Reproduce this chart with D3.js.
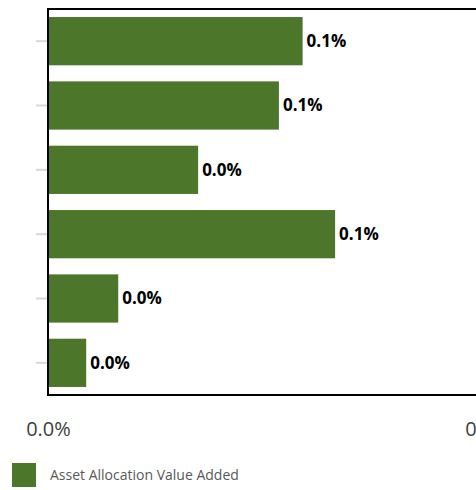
<!DOCTYPE html>
<html>
<head>
<meta charset="utf-8">
<script src="https://cdn.jsdelivr.net/npm/d3@7"></script>
<style>
  html, body { margin: 0; padding: 0; background: #fff; }
  svg { display: block; }
</style>
</head>
<body>
<svg id="chart" width="476" height="490"></svg>
<script>
const categories = ["A", "B", "C", "D", "E", "F"];
const values = [0.058, 0.0526, 0.0342, 0.0654, 0.016, 0.0087]; // percent
const xTicks = [0.0, 0.1];
const seriesName = "Asset Allocation Value Added";

(function () {
const svg = d3.select("#chart");
const mLeft = 48, mRight = 487, mTop = 9, mBottom = 395;
const barColor = "#4c772b";

const x = d3.scaleLinear().domain([0, 0.1]).range([mLeft, mRight]);
const y = d3.scaleBand().domain(categories).range([mTop, mBottom])
  .paddingInner(0.25).paddingOuter(0.125);

// y-axis tick marks (no labels)
const yAxis = d3.axisLeft(y).tickSize(11).tickFormat("").tickSizeOuter(0);
const yg = svg.append("g").attr("transform", `translate(${mLeft - 1},0)`).call(yAxis);
yg.select(".domain").remove();
yg.selectAll(".tick line").attr("stroke", "#d9d9d9").attr("stroke-width", 2);

// bars
svg.append("g").selectAll("rect").data(values).join("rect")
  .attr("x", x(0))
  .attr("y", (d, i) => y(categories[i]))
  .attr("width", d => x(d) - x(0))
  .attr("height", y.bandwidth())
  .attr("fill", barColor);

// data labels
svg.append("g").selectAll("text").data(values).join("text")
  .attr("x", d => x(d) + 4)
  .attr("y", (d, i) => y(categories[i]) + y.bandwidth() / 2)
  .attr("dy", "0.35em")
  .attr("font-family", "'Open Sans', sans-serif")
  .attr("font-weight", "bold")
  .attr("font-size", 17)
  .attr("fill", "#000")
  .text(d => d3.format(".1f")(d) + "%");

// plot border
const border = svg.append("g").attr("fill", "none").attr("stroke", "#000").attr("stroke-width", 2);
border.append("line").attr("x1", mLeft).attr("x2", mRight).attr("y1", mTop).attr("y2", mTop);
border.append("line").attr("x1", mLeft).attr("x2", mRight).attr("y1", mBottom).attr("y2", mBottom);
border.append("line").attr("x1", mLeft).attr("x2", mLeft).attr("y1", mTop - 1).attr("y2", mBottom + 1);
border.append("line").attr("x1", mRight).attr("x2", mRight).attr("y1", mTop - 1).attr("y2", mBottom + 1);

// x-axis labels
const xAxis = d3.axisBottom(x).tickValues(xTicks).tickSize(0).tickPadding(0)
  .tickFormat(d => d3.format(".1f")(d) + "%");
const xg = svg.append("g").attr("transform", `translate(0,${mBottom + 27})`).call(xAxis);
xg.select(".domain").remove();
xg.selectAll("text")
  .attr("font-family", "'Open Sans', sans-serif")
  .attr("font-size", 20)
  .attr("fill", "#404040");

// legend
const lg = svg.append("g").attr("transform", "translate(12,463)");
lg.append("rect").attr("width", 24).attr("height", 24).attr("fill", barColor);
lg.append("text").attr("x", 38).attr("y", 12).attr("dy", "0.35em")
  .attr("font-family", "'Open Sans', sans-serif")
  .attr("font-size", 14)
  .attr("fill", "#595959")
  .text(seriesName);
})();
</script>
</body>
</html>
